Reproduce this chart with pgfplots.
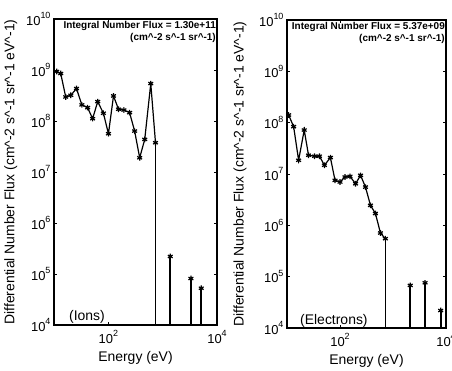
\documentclass[border=0pt]{standalone}
\usepackage{pgfplots}
\pgfplotsset{compat=1.18}
\usepackage{fontspec}
\setmainfont{Liberation Sans}
\newcommand{\tl}[1]{10\raisebox{0.5em}{\fontsize{9}{9}\selectfont #1}}
\newcommand{\ca}{\textasciicircum}
\begin{document}
\begin{tikzpicture}
\useasboundingbox (0,0) rectangle (452bp,371bp);
% ---------- Ions ----------
\begin{axis}[name=left, at={(54bp,46bp)}, width=163bp, height=306bp,
  xmode=log, ymode=log, xmin=10, xmax=1e4, ymin=1e4, ymax=1e10,
  scale only axis, anchor=south west,
  xtick={100,10000}, xticklabels={\tl{2},\tl{4}},
  ytick={1e4,1e5,1e6,1e7,1e8,1e9,1e10},
  yticklabels={\tl{4},\tl{5},\tl{6},\tl{7},\tl{8},\tl{9},\tl{10}},
  xminorticks=false, yminorticks=false,
  tick align=inside, major tick length=3bp,
  tick style={black, line width=0.8bp},
  ticklabel style={font=\fontsize{13}{13}\selectfont},
  xticklabel style={yshift=-2bp},
  label style={font=\fontsize{14}{14}\selectfont},
  xlabel={Energy (eV)},
  xlabel style={at={(axis description cs:0.5,0)}, anchor=center, yshift=-33bp},
  ylabel={Differential Number Flux (cm\ca-2 s\ca-1 sr\ca-1 eV\ca-1)},
  ylabel style={at={(axis description cs:-0.265,0.5)}, anchor=center}]
\addplot[black, line width=1.2bp, mark=asterisk, mark size=2.8bp] coordinates {
(11.19,9.33e8) (13.30,8.53e8) (16.44,2.96e8) (20.37,3.20e8) (25.94,4.33e8)
(32.58,2.07e8) (41.50,1.83e8) (51.40,1.11e8) (63.68,2.40e8) (81.10,1.42e8)
(100.5,5.64e7) (124.5,3.10e8) (153.8,1.70e8) (193.2,1.64e8) (246.0,1.46e8)
(304.8,6.35e7) (377.6,1.90e7) (467.7,4.36e7) (603.9,5.42e8) (738.0,3.75e7)
};
\addplot[black, line width=0.9bp] coordinates {(738.0,3.75e7) (738.0,1)};
\addplot[black, line width=2bp] coordinates {(1380,1) (1380,2.21e5)};
\addplot[black, line width=1.7bp] coordinates {(3311,1) (3311,8.15e4)};
\addplot[black, line width=1.7bp] coordinates {(5129,1) (5129,5.26e4)};
\addplot[black, only marks, mark=asterisk, mark size=2.8bp, line width=1.2bp] coordinates {
(1380,2.21e5) (3311,8.15e4) (5129,5.26e4)};
\end{axis}
\draw[line width=2.5bp] (left.south west) rectangle (left.north east);
\node[anchor=north east, align=right, font=\bfseries\fontsize{10}{12}\selectfont, inner sep=1bp]
  at ([yshift=-1.5bp]left.north east) {Integral Number Flux = 1.30e+11\\(cm\ca-2 s\ca-1 sr\ca-1)};
\node[anchor=west, font=\fontsize{14}{14}\selectfont, inner sep=0pt] at ([xshift=15bp,yshift=8bp]left.south west) {(Ions)};
% ---------- Electrons ----------
\begin{axis}[name=right, at={(287bp,43bp)}, width=159bp, height=308bp,
  xmode=log, ymode=log, xmin=10, xmax=1e4, ymin=1e4, ymax=1e10,
  scale only axis, anchor=south west,
  xtick={100,10000}, xticklabels={\tl{2},\tl{4}},
  ytick={1e4,1e5,1e6,1e7,1e8,1e9,1e10},
  yticklabels={\tl{4},\tl{5},\tl{6},\tl{7},\tl{8},\tl{9},\tl{10}},
  xminorticks=false, yminorticks=false,
  tick align=inside, major tick length=3bp,
  tick style={black, line width=0.8bp},
  ticklabel style={font=\fontsize{13}{13}\selectfont},
  xticklabel style={yshift=-2bp},
  label style={font=\fontsize{14}{14}\selectfont},
  xlabel={Energy (eV)},
  xlabel style={at={(axis description cs:0.5,0)}, anchor=center, yshift=-33bp},
  ylabel={Differential Number Flux (cm\ca-2 s\ca-1 sr\ca-1 eV\ca-1)},
  ylabel style={at={(axis description cs:-0.295,0.5)}, anchor=center}]
\addplot[black, line width=1.2bp, mark=asterisk, mark size=2.8bp] coordinates {
(10.74,1.41e8) (13.34,8.36e7) (16.56,1.85e7) (21.13,7.18e7) (25.47,2.32e7)
(33.04,2.22e7) (41.02,2.22e7) (50.82,1.48e7) (65.92,2.09e7) (80.54,7.52e6)
(100.0,6.97e6) (124.2,8.73e6) (154.2,8.99e6) (196.8,6.46e6) (244.3,9.42e6)
(302.7,5.56e6) (375.8,2.45e6) (466.7,1.70e6) (579.4,7.08e5) (717.8,5.50e5)
};
\addplot[black, line width=0.9bp] coordinates {(717.8,5.50e5) (717.8,1)};
\addplot[black, line width=1.7bp] coordinates {(2113,1) (2113,6.76e4)};
\addplot[black, line width=1.7bp] coordinates {(4027,1) (4027,7.59e4)};
\addplot[black, line width=1.7bp] coordinates {(7943,1) (7943,2.19e4)};
\addplot[black, only marks, mark=asterisk, mark size=2.8bp, line width=1.2bp] coordinates {
(2113,6.76e4) (4027,7.59e4) (7943,2.19e4)};
\end{axis}
\draw[line width=2.5bp] (right.south west) rectangle (right.north east);
\node[anchor=north east, align=right, font=\bfseries\fontsize{10}{12}\selectfont, inner sep=1bp]
  at ([yshift=-1.5bp]right.north east) {Integral Number Flux = 5.37e+09\\(cm\ca-2 s\ca-1 sr\ca-1)};
\node[anchor=west, font=\fontsize{14}{14}\selectfont, inner sep=0pt] at ([xshift=13bp,yshift=7bp]right.south west) {(Electrons)};
\end{tikzpicture}
\end{document}
